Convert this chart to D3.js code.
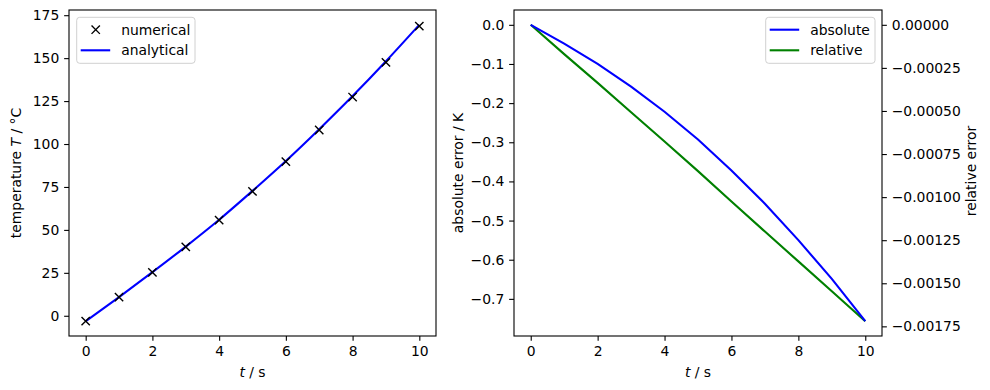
<!DOCTYPE html>
<html><head><meta charset="utf-8">
<script src="https://cdn.jsdelivr.net/npm/d3@7"></script>
<style>body{margin:0;background:#fff} text{font-family:"DejaVu Sans",sans-serif}</style>
</head><body><svg id="c" width="990" height="390"></svg>
<script>
const times = [0,1,2,3,4,5,6,7,8,9,10];
const analytical = [-3.15,10.9,25.4,40.3,55.9,72.7,90.1,108.6,127.9,148.2,169.4];
const numerical = [-3.15,10.85,25.30,40.14,55.68,72.41,89.73,108.14,127.35,147.55,168.64];
const absoluteError = [0,-0.048,-0.100,-0.158,-0.222,-0.293,-0.372,-0.457,-0.550,-0.649,-0.757];
const relativeError = [0,-0.000170,-0.000337,-0.000507,-0.000677,-0.000849,-0.001025,-0.001200,-0.001373,-0.001546,-0.00172];
const xTicks = [0,2,4,6,8,10];
const tempTicks = [0,25,50,75,100,125,150,175];
const absTicks = [0,-0.1,-0.2,-0.3,-0.4,-0.5,-0.6,-0.7];
const relTicks = [0,-0.00025,-0.0005,-0.00075,-0.001,-0.00125,-0.0015,-0.00175];

const svg = d3.select("#c");
const FS = 13.9, TL = 4.86, TP = 4.86;
function pad(ext){const r=ext[1]-ext[0];return [ext[0]-0.05*r, ext[1]+0.05*r];}
function styleAxis(g){
  g.selectAll("path").remove();
  g.selectAll("line").attr("stroke","#000").attr("stroke-width",1.1);
  g.selectAll("text").attr("font-size",FS).attr("fill","#000").attr("font-family","DejaVu Sans");
}
function frame(x0,x1,y0,y1){
  svg.append("rect").attr("x",x0).attr("y",y0).attr("width",x1-x0).attr("height",y1-y0)
    .attr("fill","none").attr("stroke","#000").attr("stroke-width",1.1);
}
function legend(x,y,w,h,items){
  const g = svg.append("g");
  g.append("rect").attr("x",x).attr("y",y).attr("width",w).attr("height",h).attr("rx",3)
   .attr("fill","#fff").attr("fill-opacity",0.8).attr("stroke","#d0d0d0").attr("stroke-width",1);
  items.forEach((it,i)=>{
    const cy = y + 12.4 + i*20.6;
    if(it.marker){
      const cx = x+19; const s=4.17;
      g.append("path").attr("d",`M${cx-s},${cy-s}L${cx+s},${cy+s}M${cx-s},${cy+s}L${cx+s},${cy-s}`)
        .attr("stroke","#000").attr("stroke-width",1.4);
    } else {
      g.append("line").attr("x1",x+4).attr("x2",x+33.5).attr("y1",cy).attr("y2",cy)
        .attr("stroke",it.color).attr("stroke-width",2.1);
    }
    g.append("text").attr("x",x+44.5).attr("y",cy+5).attr("font-size",FS).text(it.label);
  });
}

// ---------- left chart ----------
const L = {x0:69,x1:436,y0:10,y1:336};
const xL = d3.scaleLinear().domain(pad(d3.extent(times))).range([L.x0,L.x1]);
const yL = d3.scaleLinear().domain(pad(d3.extent(analytical.concat(numerical)))).range([L.y1,L.y0]);
svg.append("g").attr("transform",`translate(0,${L.y1})`)
  .call(d3.axisBottom(xL).tickValues(xTicks).tickFormat(d3.format("d")).tickSize(TL).tickPadding(TP)).call(styleAxis);
svg.append("g").attr("transform",`translate(${L.x0},0)`)
  .call(d3.axisLeft(yL).tickValues(tempTicks).tickFormat(d3.format("d")).tickSize(TL).tickPadding(TP)).call(styleAxis);
svg.append("path").datum(times.map((t,i)=>[t,analytical[i]]))
  .attr("d",d3.line().x(d=>xL(d[0])).y(d=>yL(d[1])).curve(d3.curveMonotoneX))
  .attr("fill","none").attr("stroke","#0000ff").attr("stroke-width",2.1);
svg.append("g").selectAll("path").data(times.map((t,i)=>[t,numerical[i]])).join("path")
  .attr("d",d=>{const cx=xL(d[0]),cy=yL(d[1]),s=4.17;return `M${cx-s},${cy-s}L${cx+s},${cy+s}M${cx-s},${cy+s}L${cx+s},${cy-s}`;})
  .attr("stroke","#000").attr("stroke-width",1.4);
frame(L.x0,L.x1,L.y0,L.y1);
legend(76.7,17.3,118.3,46,[{marker:true,label:"numerical"},{color:"#0000ff",label:"analytical"}]);
const xl1 = svg.append("text").attr("x",(L.x0+L.x1)/2).attr("y",377).attr("text-anchor","middle").attr("font-size",FS);
xl1.append("tspan").attr("font-style","italic").text("t");
xl1.append("tspan").text(" / s");
const yl1 = svg.append("text").attr("transform",`translate(21,${(L.y0+L.y1)/2}) rotate(-90)`).attr("text-anchor","middle").attr("font-size",FS);
yl1.append("tspan").text("temperature ");
yl1.append("tspan").attr("font-style","italic").text("T");
yl1.append("tspan").text(" / °C");

// ---------- right chart ----------
const R = {x0:514,x1:882,y0:10,y1:336};
const xR = d3.scaleLinear().domain(pad(d3.extent(times))).range([R.x0,R.x1]);
const yA = d3.scaleLinear().domain(pad(d3.extent(absoluteError))).range([R.y1,R.y0]);
const yRel = d3.scaleLinear().domain(pad(d3.extent(relativeError))).range([R.y1,R.y0]);
svg.append("g").attr("transform",`translate(0,${R.y1})`)
  .call(d3.axisBottom(xR).tickValues(xTicks).tickFormat(d3.format("d")).tickSize(TL).tickPadding(TP)).call(styleAxis);
svg.append("g").attr("transform",`translate(${R.x0},0)`)
  .call(d3.axisLeft(yA).tickValues(absTicks).tickFormat(d3.format(".1f")).tickSize(TL).tickPadding(TP)).call(styleAxis);
svg.append("g").attr("transform",`translate(${R.x1},0)`)
  .call(d3.axisRight(yRel).tickValues(relTicks).tickFormat(d3.format(".5f")).tickSize(TL).tickPadding(TP)).call(styleAxis);
svg.append("path").datum(times.map((t,i)=>[t,relativeError[i]]))
  .attr("d",d3.line().x(d=>xR(d[0])).y(d=>yRel(d[1])))
  .attr("fill","none").attr("stroke","#008000").attr("stroke-width",2.1);
svg.append("path").datum(times.map((t,i)=>[t,absoluteError[i]]))
  .attr("d",d3.line().x(d=>xR(d[0])).y(d=>yA(d[1])))
  .attr("fill","none").attr("stroke","#0000ff").attr("stroke-width",2.1);
frame(R.x0,R.x1,R.y0,R.y1);
legend(765.7,17.3,109.3,46,[{color:"#0000ff",label:"absolute"},{color:"#008000",label:"relative"}]);
const xl2 = svg.append("text").attr("x",(R.x0+R.x1)/2).attr("y",377).attr("text-anchor","middle").attr("font-size",FS);
xl2.append("tspan").attr("font-style","italic").text("t");
xl2.append("tspan").text(" / s");
svg.append("text").attr("transform",`translate(463,${(R.y0+R.y1)/2}) rotate(-90)`).attr("text-anchor","middle").attr("font-size",FS).text("absolute error / K");
svg.append("text").attr("transform",`translate(975.5,${(R.y0+R.y1)/2 - 2}) rotate(-90)`).attr("text-anchor","middle").attr("font-size",FS).text("relative error");
</script></body></html>
